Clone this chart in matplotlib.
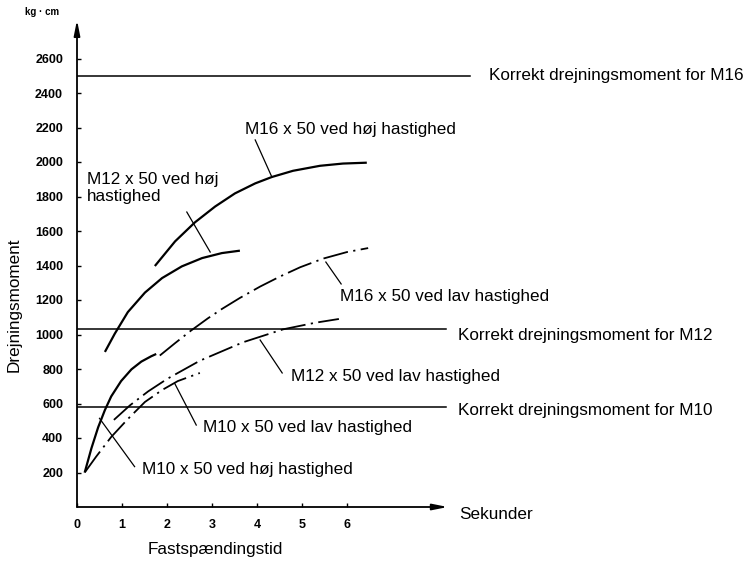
import matplotlib.pyplot as plt

plt.rcParams['font.family'] = ['Liberation Sans', 'DejaVu Sans']

# tightening time (s) vs torque (kg*cm) for each bolt / speed
m16_hoj_t = [1.73, 2.18, 2.62, 3.07, 3.51, 3.96, 4.33, 4.80, 5.40, 5.91, 6.44]
m16_hoj_m = [1397, 1540, 1650, 1742, 1818, 1876, 1913, 1949, 1978, 1991, 1996]

m12_hoj_t = [0.62, 0.84, 1.13, 1.51, 1.89, 2.33, 2.78, 3.22, 3.62]
m12_hoj_m = [899, 1005, 1130, 1243, 1327, 1395, 1443, 1472, 1486]

m10_hoj_t = [0.17, 0.32, 0.47, 0.62, 0.76, 0.98, 1.21, 1.43, 1.65, 1.76]
m10_hoj_m = [199, 340, 462, 562, 641, 730, 798, 843, 874, 887]

m16_lav_t = [1.84, 2.18, 2.53, 2.91, 3.22, 3.62, 4.07, 4.51, 4.96, 5.47, 6.00, 6.47]
m16_lav_m = [878, 950, 1022, 1094, 1148, 1212, 1278, 1336, 1390, 1440, 1478, 1501]

m12_lav_t = [0.82, 1.18, 1.58, 2.00, 2.73, 3.69, 4.58, 5.29, 5.82]
m12_lav_m = [505, 590, 670, 742, 848, 955, 1030, 1068, 1090]

m10_lav_t = [0.18, 0.42, 0.76, 1.13, 1.51, 1.89, 2.24, 2.73]
m10_lav_m = [203, 290, 406, 510, 609, 678, 730, 777]

# correct torque per bolt size
korrekt = {'M16': 2500, 'M12': 1030, 'M10': 580}

y_ticks = list(range(200, 2700, 200))
x_ticks = list(range(0, 7))

fig = plt.figure(figsize=(7.46, 5.65), dpi=100)
ax = fig.add_axes([77 / 746, 58 / 565, 669 / 746, 507 / 565])
ax.set_xlim(0, 669 / 45)
ax.set_ylim(0, 507 / 0.1725)
for s in ax.spines.values():
    s.set_visible(False)

# axes with arrow heads
arrow = dict(arrowstyle='-|>,head_length=0.9,head_width=0.18', color='black', lw=1.3,
             shrinkA=0, shrinkB=0)
ax.annotate('', xy=(0, 2823), xytext=(0, 0), arrowprops=arrow, annotation_clip=False)
ax.annotate('', xy=(8.24, 0), xytext=(0, 0), arrowprops=arrow, annotation_clip=False)

ax.set_yticks(y_ticks)
ax.set_xticks(x_ticks)
ax.tick_params(axis='y', direction='in', length=3, width=1, pad=10, labelsize=9)
ax.tick_params(axis='x', direction='in', length=3, width=1, pad=9, labelsize=9)
for lab in ax.get_xticklabels() + ax.get_yticklabels():
    lab.set_fontweight('bold')

# reference torque lines
ax.plot([0, 8.73], [korrekt['M16']] * 2, color='black', lw=1.1)
ax.plot([0, 8.2], [korrekt['M12']] * 2, color='black', lw=1.1)
ax.plot([0, 8.2], [korrekt['M10']] * 2, color='black', lw=1.1)

fs = 12.3
ax.text(9.16, korrekt['M16'], 'Korrekt drejningsmoment for M16', fontsize=fs, va='center')
ax.text(8.47, 997, 'Korrekt drejningsmoment for M12', fontsize=fs, va='center')
ax.text(8.47, 562, 'Korrekt drejningsmoment for M10', fontsize=fs, va='center')

# high speed: solid, low speed: dash-dot
solid = dict(color='black', lw=1.6, solid_capstyle='butt', solid_joinstyle='round')
dashdot = dict(color='black', lw=1.3, dashes=(14, 3, 1.2, 3))
ax.plot(m16_hoj_t, m16_hoj_m, **solid)
ax.plot(m12_hoj_t, m12_hoj_m, **solid)
ax.plot(m10_hoj_t, m10_hoj_m, **solid)
ax.plot(m16_lav_t, m16_lav_m, **dashdot)
ax.plot(m12_lav_t, m12_lav_m, **dashdot)
ax.plot(m10_lav_t, m10_lav_m, **dashdot)

# labels with leader lines
lead = dict(color='black', lw=0.9)
ax.text(3.73, 2186, 'M16 x 50 ved høj hastighed', fontsize=fs, va='center')
ax.plot([3.96, 4.33], [2128, 1913], **lead)
ax.text(0.22, 1849, 'M12 x 50 ved høj\nhastighed', fontsize=fs, va='center')
ax.plot([2.44, 2.96], [1710, 1478], **lead)
ax.text(5.84, 1223, 'M16 x 50 ved lav hastighed', fontsize=fs, va='center')
ax.plot([5.53, 5.87], [1420, 1293], **lead)
ax.text(4.76, 754, 'M12 x 50 ved lav hastighed', fontsize=fs, va='center')
ax.plot([4.07, 4.56], [968, 777], **lead)
ax.text(2.80, 458, 'M10 x 50 ved lav hastighed', fontsize=fs, va='center')
ax.plot([2.17, 2.65], [717, 475], **lead)
ax.text(1.44, 220, 'M10 x 50 ved høj hastighed', fontsize=fs, va='center')
ax.plot([0.50, 1.28], [514, 234], **lead)

# axis titles
ax.text(8.49, -41, 'Sekunder', fontsize=fs, va='center', clip_on=False)
ax.text(1.58, -249, 'Fastspændingstid', fontsize=fs, va='center', clip_on=False)
ax.text(-1.4, 1171, 'Drejningsmoment', fontsize=fs, rotation=90, ha='center', va='center',
        clip_on=False)
ax.text(-0.78, 2870, 'kg · cm', fontsize=7, fontweight='bold', ha='center', va='center',
        clip_on=False)

fig.savefig('out.png', dpi=100)
